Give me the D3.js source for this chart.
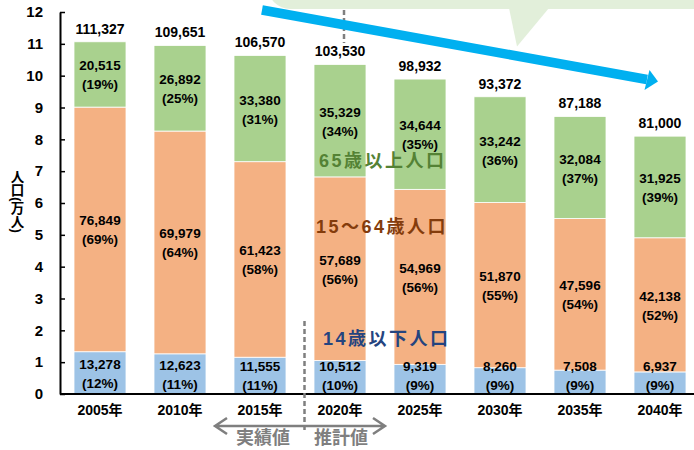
<!DOCTYPE html>
<html><head><meta charset="utf-8">
<script src="https://cdn.jsdelivr.net/npm/d3@7"></script>
<style>
body{margin:0;background:#fff;}
text{font-family:"Liberation Sans","Noto Sans CJK JP",sans-serif;}
</style></head>
<body><svg id="c" width="694" height="450"></svg>
<script>
const years = ["2005年","2010年","2015年","2020年","2025年","2030年","2035年","2040年"];
const young = [13278,12623,11555,10512,9319,8260,7508,6937];
const youngPct = ["12%","11%","11%","10%","9%","9%","9%","9%"];
const working = [76849,69979,61423,57689,54969,51870,47596,42138];
const workingPct = ["69%","64%","58%","56%","56%","55%","54%","52%"];
const elderly = [20515,26892,33380,35329,34644,33242,32084,31925];
const elderlyPct = ["19%","25%","31%","34%","35%","36%","37%","39%"];
const totals = [111327,109651,106570,103530,98932,93372,87188,81000];
const yTicks = [0,1,2,3,4,5,6,7,8,9,10,11,12];

const svg = d3.select("#c");
const x = d3.scaleBand().domain(years).range([60,700]).paddingInner(0.35).paddingOuter(0.175);
const y = d3.scaleLinear().domain([0,12]).range([394,12]);
const fmt = d3.format(",");

// callout bubble (decoration)
svg.append("rect").attr("x",268).attr("y",-40).attr("width",460).attr("height",49).attr("rx",22).attr("fill","#E2EFDA");
svg.append("path").attr("d","M509,8 L517,46.5 L549,8 Z").attr("fill","#E2EFDA");

const series = [
  {vals:young, pct:youngPct, color:"#9DC3E6"},
  {vals:working, pct:workingPct, color:"#F4B183"},
  {vals:elderly, pct:elderlyPct, color:"#A9D18E"}
];

const barLayer = svg.append("g");
const labelLayer = svg.append("g").attr("font-size",13.5).attr("font-weight","bold").attr("text-anchor","middle").attr("fill","#000");

years.forEach((yr,i)=>{
  let base = 0;
  const cx = x(yr)+x.bandwidth()/2;
  series.forEach(s=>{
    const v = s.vals[i]/10000;
    const y0 = y(base), y1 = y(base+v);
    barLayer.append("rect").attr("x",x(yr)).attr("width",x.bandwidth())
      .attr("y",y1).attr("height",y0-y1).attr("fill",s.color)
      .attr("stroke","#fff").attr("stroke-width",0.8);
    let c = (y0+y1)/2;
    c = Math.min(c, y(0)-19);
    labelLayer.append("text").attr("x",cx).attr("y",c-4).text(fmt(s.vals[i]));
    labelLayer.append("text").attr("x",cx).attr("y",c+15).text("("+s.pct[i]+")");
    base += v;
  });
  labelLayer.append("text").attr("x",cx).attr("y",y(base)-8)
    .attr("font-size",14).text(fmt(totals[i]));
});

// axes
const ya = d3.axisLeft(y).tickValues(yTicks).tickSize(-5).tickSizeOuter(0).tickPadding(17).tickFormat(d3.format("d"));
const yg = svg.append("g").attr("transform","translate(60,0)").call(ya);
yg.select(".domain").attr("stroke","#000").attr("stroke-width",2);
yg.selectAll(".tick line").attr("stroke","#000").attr("stroke-width",1.5);
yg.selectAll(".tick text").attr("font-size",15).attr("font-weight","bold").attr("fill","#000")
  .attr("font-family","'Liberation Sans',sans-serif");

const xa = d3.axisBottom(x).tickSize(0).tickPadding(11);
const xg = svg.append("g").attr("transform","translate(0,394)").call(xa);
xg.select(".domain").attr("d","M60,0H694").attr("stroke","#000").attr("stroke-width",2);
xg.selectAll(".tick text").attr("font-size",14).attr("font-weight","bold").attr("fill","#000");

// y title
svg.append("text").attr("x",16).attr("y",170).attr("writing-mode","vertical-rl")
  .attr("font-size",13.5).attr("font-weight","bold").attr("font-family","'Noto Sans CJK JP'")
  .text("人口(万人)");

// legend-like labels
svg.append("text").attr("x",319).attr("y",167).attr("font-size",18).attr("font-weight","bold")
  .attr("letter-spacing",2.5).attr("fill","#548235").attr("font-family","'Noto Sans CJK JP'").text("65歳以上人口");
svg.append("text").attr("x",316).attr("y",233).attr("font-size",18).attr("font-weight","bold")
  .attr("letter-spacing",2.5).attr("fill","#843C0C").attr("font-family","'Noto Sans CJK JP'").text("15～64歳人口");
svg.append("text").attr("x",323).attr("y",345).attr("font-size",18).attr("font-weight","bold")
  .attr("letter-spacing",2.5).attr("fill","#24447F").attr("font-family","'Noto Sans CJK JP'").text("14歳以下人口");

// dashed dividers
svg.append("line").attr("x1",344).attr("x2",344).attr("y1",10).attr("y2",43)
  .attr("stroke","#7F7F7F").attr("stroke-width",2.5).attr("stroke-dasharray","5,3");
svg.append("line").attr("x1",304.5).attr("x2",304.5).attr("y1",321).attr("y2",433)
  .attr("stroke","#7F7F7F").attr("stroke-width",2.5).attr("stroke-dasharray","5,3");

// bottom arrows
const ga = svg.append("g").attr("stroke","#7F7F7F").attr("stroke-width",2.5).attr("fill","none");
ga.append("path").attr("d","M227,418 L215,426 L227,434 M215,426 H385 M373,418 L385,426 L373,434");
svg.append("text").attr("x",263).attr("y",444).attr("text-anchor","middle").attr("font-size",18)
  .attr("font-weight","bold").attr("fill","#7F7F7F").attr("font-family","'Noto Sans CJK JP'").text("実績値");
svg.append("text").attr("x",341).attr("y",444).attr("text-anchor","middle").attr("font-size",18)
  .attr("font-weight","bold").attr("fill","#7F7F7F").attr("font-family","'Noto Sans CJK JP'").text("推計値");

// big blue trend arrow
svg.append("line").attr("x1",262).attr("y1",10).attr("x2",647).attr("y2",79.5)
  .attr("stroke","#00B0F0").attr("stroke-width",9.5);
svg.append("path").attr("d","M658,81.5 L649.5,70 L644.5,90 Z").attr("fill","#00B0F0");
</script></body></html>
